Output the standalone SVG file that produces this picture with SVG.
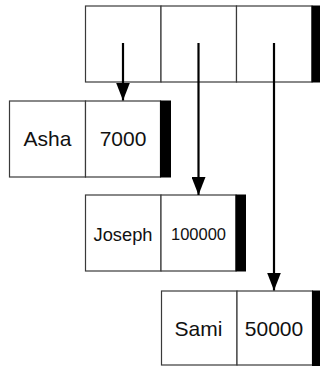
<svg xmlns="http://www.w3.org/2000/svg" width="320" height="366" viewBox="0 0 320 366">
<defs>
<style>
.cell{fill:#fff;stroke:#3a3a3a;stroke-width:1.2}
.bar{fill:#000}
.t{font-family:"Liberation Sans",Arial,sans-serif;fill:#111;text-anchor:middle}
.conn{stroke:#000;stroke-width:2.2;fill:none;marker-end:url(#ah)}
</style>
<marker id="ah" markerUnits="userSpaceOnUse" markerWidth="18" markerHeight="14" refX="18" refY="7" orient="auto" viewBox="0 0 18 14">
<path d="M0,0 L18,7 L0,14 Z" fill="#000"/>
</marker>
</defs>
<rect width="320" height="366" fill="#fff"/>
<g id="array">
<rect class="cell" x="85.5" y="6" width="75.5" height="76"/>
<rect class="cell" x="161" y="6" width="75.5" height="76"/>
<rect class="cell" x="236.5" y="6" width="75.5" height="76"/>
<rect class="bar" x="311.5" y="5.5" width="9" height="77"/>
</g>
<g id="asha">
<rect class="cell" x="9.5" y="101" width="76" height="76"/>
<rect class="cell" x="85.5" y="101" width="75" height="76"/>
<rect class="bar" x="160" y="100.5" width="11" height="77"/>
<text class="t" x="47.5" y="146" font-size="21">Asha</text>
<text class="t" x="123" y="146" font-size="21">7000</text>
</g>
<g id="joseph">
<rect class="cell" x="85.5" y="195" width="75.5" height="76"/>
<rect class="cell" x="161" y="195" width="75" height="76"/>
<rect class="bar" x="235.5" y="194.5" width="10.5" height="77"/>
<text class="t" x="123" y="240.5" font-size="18.3">Joseph</text>
<text class="t" x="198.5" y="240" font-size="16.5">100000</text>
</g>
<g id="sami">
<rect class="cell" x="161.5" y="291" width="75.5" height="74"/>
<rect class="cell" x="237" y="291" width="75.5" height="74"/>
<rect class="bar" x="312" y="290.5" width="9" height="76"/>
<text class="t" x="198.5" y="336" font-size="21">Sami</text>
<text class="t" x="274" y="336" font-size="21">50000</text>
</g>
<g id="connectors">
<line class="conn" x1="123" y1="43" x2="123" y2="100.5"/>
<line class="conn" x1="198.5" y1="43" x2="198.5" y2="195"/>
<line class="conn" x1="274" y1="43" x2="274" y2="290.5"/>
</g>
</svg>
